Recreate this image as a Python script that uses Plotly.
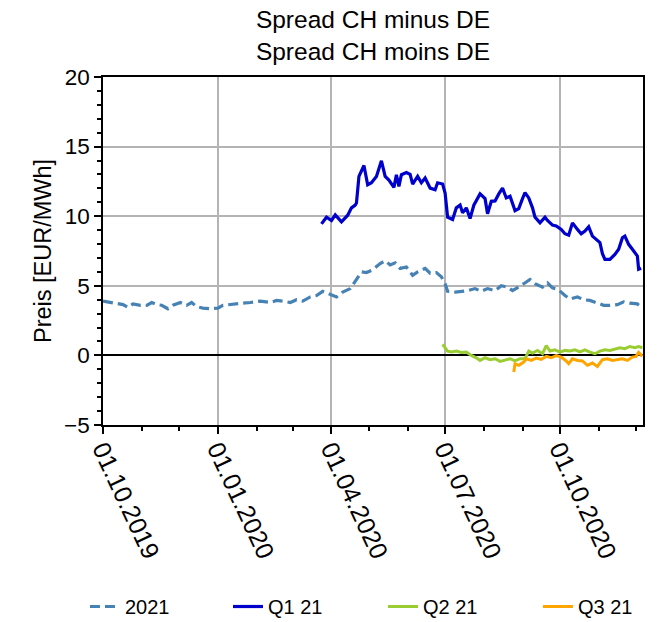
import plotly.graph_objects as go

# ---- data ----
dates_2021 = [
    "2019-10-01", "2019-10-09", "2019-10-17", "2019-10-21", "2019-10-25", "2019-10-31",
    "2019-11-05", "2019-11-09", "2019-11-13", "2019-11-17", "2019-11-22", "2019-11-26",
    "2019-12-02", "2019-12-07", "2019-12-11", "2019-12-15", "2019-12-20", "2019-12-26",
    "2020-01-01", "2020-01-05", "2020-01-13", "2020-01-21", "2020-01-27", "2020-02-04",
    "2020-02-12", "2020-02-17", "2020-02-22", "2020-02-28", "2020-03-04", "2020-03-09",
    "2020-03-15", "2020-03-20", "2020-03-25", "2020-03-31", "2020-04-05", "2020-04-10",
    "2020-04-16", "2020-04-18", "2020-04-21", "2020-04-25", "2020-04-29", "2020-05-04",
    "2020-05-10", "2020-05-14", "2020-05-18", "2020-05-22", "2020-05-26", "2020-05-31",
    "2020-06-05", "2020-06-09", "2020-06-15", "2020-06-19", "2020-06-24", "2020-06-28",
    "2020-07-01", "2020-07-03", "2020-07-09", "2020-07-14", "2020-07-19", "2020-07-25",
    "2020-07-30", "2020-08-04", "2020-08-10", "2020-08-15", "2020-08-20", "2020-08-24",
    "2020-08-29", "2020-09-02", "2020-09-07", "2020-09-11", "2020-09-17", "2020-09-21",
    "2020-09-25", "2020-09-30", "2020-10-05", "2020-10-09", "2020-10-15", "2020-10-20",
    "2020-10-25", "2020-10-31", "2020-11-05", "2020-11-10", "2020-11-16", "2020-11-21",
    "2020-11-26", "2020-12-02", "2020-12-06",
]
values_2021 = [
    3.9, 3.75, 3.65, 3.45, 3.7, 3.6,
    3.6, 3.8, 3.65, 3.6, 3.35, 3.6,
    3.8, 3.6, 3.8, 3.5, 3.4, 3.35,
    3.4, 3.6, 3.7, 3.75, 3.8, 3.9,
    3.8, 3.95, 3.9, 3.8, 4.0, 3.9,
    4.2, 4.3, 4.6, 4.4, 4.2, 4.55,
    4.8, 5.05, 5.45, 6.0, 5.95, 6.15,
    6.6, 6.8, 6.5, 6.65, 6.25, 6.35,
    5.75, 6.0, 6.25, 5.9, 5.95, 5.65,
    5.15, 4.6, 4.55, 4.6, 4.65, 4.8,
    4.6, 4.8, 4.65, 5.0, 4.9, 4.65,
    4.9, 5.15, 5.45, 5.15, 4.9, 5.2,
    4.85, 4.7, 4.3, 4.05, 4.2, 4.0,
    3.95, 3.75, 3.6, 3.6, 3.65, 3.85,
    3.75, 3.7, 3.4,
]

dates_q1 = [
    "2020-03-24", "2020-03-28", "2020-04-01", "2020-04-04", "2020-04-06", "2020-04-09",
    "2020-04-14", "2020-04-17", "2020-04-20", "2020-04-21", "2020-04-23", "2020-04-27",
    "2020-04-30", "2020-05-03", "2020-05-07", "2020-05-09", "2020-05-11", "2020-05-14",
    "2020-05-17", "2020-05-21", "2020-05-23", "2020-05-25", "2020-05-27", "2020-05-31",
    "2020-06-03", "2020-06-05", "2020-06-09", "2020-06-12", "2020-06-15", "2020-06-19",
    "2020-06-23", "2020-06-25", "2020-06-29", "2020-07-01", "2020-07-03", "2020-07-07",
    "2020-07-10", "2020-07-13", "2020-07-15", "2020-07-18", "2020-07-21", "2020-07-24",
    "2020-07-27", "2020-07-29", "2020-08-02", "2020-08-04", "2020-08-07", "2020-08-10",
    "2020-08-13", "2020-08-16", "2020-08-19", "2020-08-22", "2020-08-26", "2020-08-29",
    "2020-09-01", "2020-09-03", "2020-09-06", "2020-09-09", "2020-09-11", "2020-09-15",
    "2020-09-19", "2020-09-21", "2020-09-25", "2020-09-28", "2020-10-02", "2020-10-05",
    "2020-10-08", "2020-10-11", "2020-10-15", "2020-10-18", "2020-10-21", "2020-10-24",
    "2020-10-27", "2020-10-30", "2020-11-02", "2020-11-04", "2020-11-06", "2020-11-10",
    "2020-11-14", "2020-11-17", "2020-11-20", "2020-11-22", "2020-11-25", "2020-11-28",
    "2020-12-02", "2020-12-03", "2020-12-05",
]
values_q1 = [
    9.45, 9.93, 9.69, 10.1, 9.9, 9.6,
    10.07, 10.6, 10.8, 10.95, 12.86, 13.64,
    12.26, 12.4, 12.86, 13.45, 13.98, 12.86,
    12.6, 12.07, 12.98, 12.14, 12.98, 13.14,
    13.0, 12.31, 12.86, 12.4, 12.74, 12.02,
    11.9, 12.4, 12.31, 11.67, 9.93, 9.76,
    10.6, 10.8, 10.24, 10.6, 9.83, 10.79,
    11.31, 11.6, 11.26, 10.17, 11.07, 11.1,
    11.6, 12.02, 11.31, 11.43, 10.4, 10.55,
    11.26, 11.7, 11.31, 10.6, 9.93, 9.52,
    9.93, 9.7, 9.36, 9.3, 9.05, 8.74,
    8.64, 9.52, 9.05, 8.74, 8.93, 9.24,
    8.57, 8.33, 8.1, 7.31, 6.9, 6.9,
    7.26, 7.62, 8.45, 8.57, 7.98, 7.62,
    7.14, 6.19, 6.26,
]

dates_q2 = [
    "2020-06-29", "2020-07-01", "2020-07-03", "2020-07-06", "2020-07-10", "2020-07-14",
    "2020-07-18", "2020-07-22", "2020-07-26", "2020-07-29", "2020-08-02", "2020-08-06",
    "2020-08-10", "2020-08-14", "2020-08-18", "2020-08-22", "2020-08-26", "2020-08-30",
    "2020-09-03", "2020-09-06", "2020-09-09", "2020-09-13", "2020-09-17", "2020-09-20",
    "2020-09-23", "2020-09-27", "2020-10-01", "2020-10-05", "2020-10-09", "2020-10-13",
    "2020-10-17", "2020-10-21", "2020-10-25", "2020-10-29", "2020-11-02", "2020-11-06",
    "2020-11-10", "2020-11-14", "2020-11-18", "2020-11-22", "2020-11-26", "2020-11-30",
    "2020-12-03", "2020-12-06",
]
values_q2 = [
    0.79, 0.55, 0.31, 0.24, 0.31, 0.21,
    0.24, 0.0, -0.17, -0.36, -0.17, -0.31,
    -0.24, -0.43, -0.36, -0.24, -0.4, -0.24,
    -0.24, 0.31, 0.17, 0.36, 0.12, 0.71,
    0.31, 0.4, 0.24, 0.36, 0.31, 0.4,
    0.26, 0.4, 0.24, 0.12, 0.31, 0.4,
    0.36, 0.48, 0.55, 0.48, 0.64, 0.55,
    0.64, 0.55,
]

dates_q3 = [
    "2020-08-25", "2020-08-26", "2020-08-29", "2020-09-02", "2020-09-04", "2020-09-08",
    "2020-09-12", "2020-09-16", "2020-09-20", "2020-09-24", "2020-09-28", "2020-10-02",
    "2020-10-06", "2020-10-08", "2020-10-11", "2020-10-15", "2020-10-19", "2020-10-23",
    "2020-10-27", "2020-10-31", "2020-11-04", "2020-11-08", "2020-11-12", "2020-11-16",
    "2020-11-20", "2020-11-24", "2020-11-28", "2020-12-01", "2020-12-03", "2020-12-06",
]
values_q3 = [
    -1.19, -0.6, -0.71, -0.48, -0.24, -0.36,
    -0.19, -0.29, -0.07, -0.17, -0.02, -0.12,
    -0.4, -0.6, -0.24, -0.36, -0.4, -0.71,
    -0.55, -0.79, -0.31, -0.24, -0.36, -0.31,
    -0.24, -0.36, -0.12, -0.07, 0.21, -0.07,
]

series_names = ["2021", "Q1 21", "Q2 21", "Q3 21"]
series_colors = ["#4682B4", "#0000CD", "#9ACD32", "#FFA500"]
title_lines = ["Spread CH minus DE", "Spread CH moins DE"]
y_label = "Preis [EUR/MWh]"

FONT = "Liberation Sans, Arial, sans-serif"

fig = go.Figure()
fig.add_trace(go.Scatter(x=dates_2021, y=values_2021, mode="lines", name=series_names[0],
                         legend="legend",
                         line=dict(color=series_colors[0], width=3.2, dash="10px,5px")))
fig.add_trace(go.Scatter(x=dates_q1, y=values_q1, mode="lines", name=series_names[1],
                         legend="legend2",
                         line=dict(color=series_colors[1], width=3.2)))
fig.add_trace(go.Scatter(x=dates_q2, y=values_q2, mode="lines", name=series_names[2],
                         legend="legend3",
                         line=dict(color=series_colors[2], width=3)))
fig.add_trace(go.Scatter(x=dates_q3, y=values_q3, mode="lines", name=series_names[3],
                         legend="legend4",
                         line=dict(color=series_colors[3], width=3)))

leg_common = dict(orientation="h", xanchor="left", xref="container",
                  y=0.057, yref="container", yanchor="top",
                  font=dict(size=20, family=FONT), bgcolor="rgba(0,0,0,0)")

# the page body adds an 8px offset, so the figure is 8px smaller than the window
fig.update_layout(
    width=659, height=614,
    margin=dict(l=95, r=24, t=69, b=197),
    paper_bgcolor="white", plot_bgcolor="white",
    font=dict(family=FONT, color="black"),
    title=dict(text="<br>".join(title_lines), x=0.5, xref="paper", xanchor="center",
               y=0.9674, yref="container", yanchor="top",
               font=dict(size=24.5, family=FONT, color="black")),
    legend=dict(x=0.1168, **leg_common),
    legend2=dict(x=0.3338, **leg_common),
    legend3=dict(x=0.5690, **leg_common),
    legend4=dict(x=0.8042, **leg_common),
    showlegend=True,
)

fig.update_xaxes(
    type="date", range=["2019-10-01", "2020-12-06 12:00"],
    tick0="2019-10-01", dtick="M3", tickformat="%d.%m.%Y", tickangle=65,
    ticks="outside", ticklen=7, tickwidth=1.5, tickcolor="black",
    tickfont=dict(size=25, family=FONT), ticklabelstandoff=-9,
    minor=dict(dtick="M1", tick0="2019-10-01", ticks="outside", ticklen=4,
               tickwidth=1.5, tickcolor="black", showgrid=False),
    showgrid=True, gridcolor="#b4b4b4", gridwidth=1.5,
    showline=True, linecolor="black", linewidth=1.5, mirror=True,
    zeroline=False,
)
fig.update_yaxes(
    range=[-5, 20], tick0=0, dtick=5,
    ticks="outside", ticklen=7, tickwidth=1.5, tickcolor="black",
    tickfont=dict(size=22.5, family=FONT),
    minor=dict(dtick=1, ticks="outside", ticklen=4, tickwidth=1.5, tickcolor="black",
               showgrid=False),
    showgrid=True, gridcolor="#b4b4b4", gridwidth=1.5,
    showline=True, linecolor="black", linewidth=1.5, mirror=True,
    zeroline=True, zerolinecolor="black", zerolinewidth=2,
    title=dict(text=y_label, font=dict(size=23.5, family=FONT), standoff=6),
)

fig.write_html("out.html")
